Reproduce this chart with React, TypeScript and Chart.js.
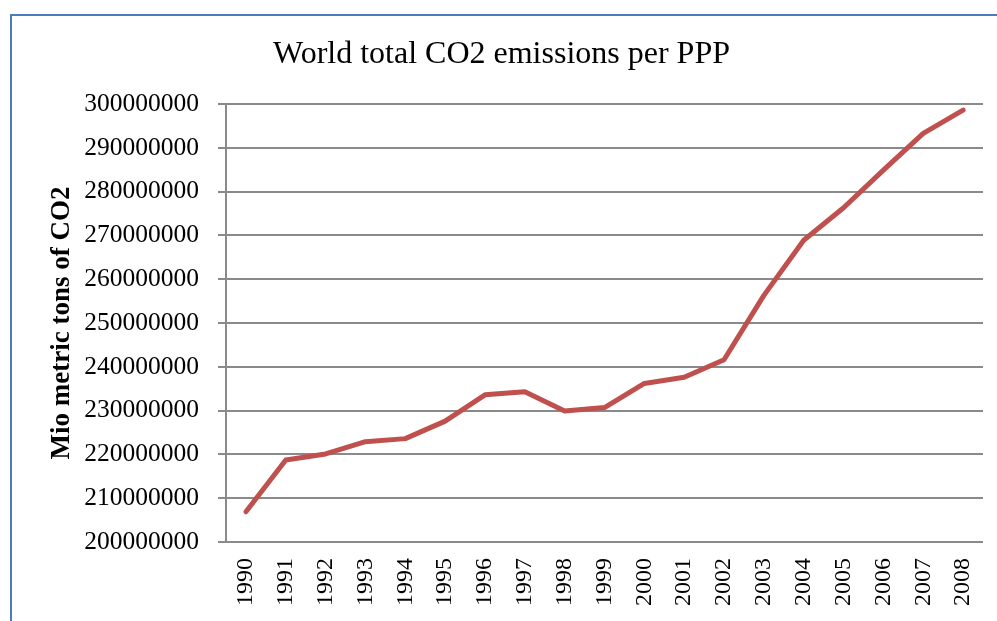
import React, { useEffect, useRef } from "react";
import { Chart, registerables } from "chart.js";

Chart.register(...registerables);

const years = [
  "1990", "1991", "1992", "1993", "1994", "1995", "1996", "1997", "1998", "1999",
  "2000", "2001", "2002", "2003", "2004", "2005", "2006", "2007", "2008",
];

const emissions = [
  206900000, 218700000, 220100000, 222900000, 223600000, 227600000, 233600000,
  234300000, 229900000, 230700000, 236200000, 237600000, 241600000, 256300000,
  268900000, 276300000, 284900000, 293300000, 298600000,
];

const chartTitle = "World total CO2 emissions per PPP";
const yAxisTitle = "Mio metric tons of CO2";

const SERIF = "'Liberation Serif', 'Times New Roman', serif";

export default function App() {
  const canvasRef = useRef<HTMLCanvasElement | null>(null);

  useEffect(() => {
    document.body.style.margin = "0";
    document.body.style.overflow = "hidden";
    document.documentElement.style.overflow = "hidden";
    const canvas = canvasRef.current;
    if (!canvas) return;
    const chart = new Chart(canvas, {
      type: "line",
      data: {
        labels: years,
        datasets: [
          {
            data: emissions,
            borderColor: "#C0504D",
            backgroundColor: "#C0504D",
            borderWidth: 5,
            pointRadius: 0,
            tension: 0,
            borderCapStyle: "round",
            borderJoinStyle: "round",
          },
        ],
      },
      options: {
        responsive: false,
        animation: false,
        layout: { padding: { left: 20, right: 14, top: 0, bottom: 0 } },
        plugins: {
          legend: { display: false },
          tooltip: { enabled: false },
          title: {
            display: true,
            text: chartTitle,
            color: "#000",
            font: { family: SERIF, size: 32, weight: "normal", lineHeight: 1.2 },
            padding: { top: 35, bottom: 30.6 },
          },
        },
        scales: {
          x: {
            offset: true,
            grid: { display: false },
            border: { display: false },
            ticks: {
              color: "#000",
              font: { family: SERIF, size: 24 },
              minRotation: 90,
              maxRotation: 90,
              padding: 8,
              autoSkip: false,
            },
            afterFit: (scale: any) => {
              scale.height = 79;
              scale.paddingLeft = 0;
              scale.paddingRight = 0;
            },
          },
          y: {
            min: 200000000,
            max: 300000000,
            grid: {
              color: "#8A8A8A",
              lineWidth: 2,
              drawTicks: true,
              tickLength: 8,
            },
            border: { display: true, color: "#8A8A8A", width: 2 },
            ticks: {
              stepSize: 10000000,
              color: "#000",
              font: { family: SERIF, size: 25.5 },
              padding: 19,
              callback: (v: any) => String(v),
            },
            title: {
              display: true,
              text: yAxisTitle,
              color: "#000",
              font: { family: SERIF, size: 27, weight: "bold", lineHeight: 1.2 },
              padding: { top: 26, bottom: 0 },
            },
            afterFit: (scale: any) => {
              scale.width = 206;
            },
          },
        },
      },
    });
    return () => chart.destroy();
  }, []);

  return (
    <div style={{ position: "relative", width: 997, height: 621, overflow: "hidden", background: "#fff" }}>
      <div
        style={{
          position: "absolute",
          left: 10,
          top: 14,
          width: 1200,
          height: 800,
          borderTop: "2px solid #4A7EBB",
          borderLeft: "2px solid #4A7EBB",
        }}
      />
      <canvas
        ref={canvasRef}
        width={997}
        height={621}
        style={{ position: "absolute", left: 0, top: 0, width: 997, height: 621 }}
      />
    </div>
  );
}
